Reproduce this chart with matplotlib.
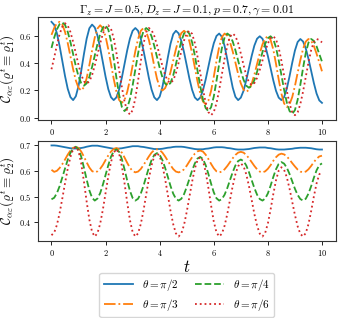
import numpy as np
import matplotlib
matplotlib.use("Agg")
import matplotlib.pyplot as plt

plt.rcParams['font.family'] = 'serif'
plt.rcParams['font.serif'] = ['cmr10', 'DejaVu Serif']
plt.rcParams['mathtext.fontset'] = 'cm'
plt.rcParams['axes.formatter.use_mathtext'] = True

# time grid (step 0.1)
t = np.linspace(0, 10, 101)

# upper panel: rho_1
top_pi2 = [0.700, 0.678, 0.617, 0.524, 0.415, 0.306, 0.213, 0.152, 0.130,
           0.158, 0.233, 0.344, 0.466, 0.577, 0.653, 0.680,
           0.659, 0.600, 0.510, 0.405, 0.300, 0.210, 0.151, 0.130,
           0.150, 0.207, 0.292, 0.393, 0.493, 0.578, 0.635, 0.655,
           0.635, 0.578, 0.493, 0.393, 0.292, 0.207, 0.150, 0.130,
           0.155, 0.225, 0.326, 0.439, 0.540, 0.610, 0.635,
           0.616, 0.561, 0.479, 0.383, 0.286, 0.204, 0.149, 0.130,
           0.148, 0.201, 0.280, 0.373, 0.465, 0.544, 0.597, 0.615,
           0.591, 0.524, 0.426, 0.319, 0.221, 0.154, 0.130,
           0.148, 0.198, 0.274, 0.363, 0.451, 0.527, 0.577, 0.595,
           0.577, 0.527, 0.451, 0.363, 0.274, 0.198, 0.148, 0.130,
           0.152, 0.214, 0.303, 0.402, 0.491, 0.553, 0.575,
           0.557, 0.507, 0.431, 0.343, 0.254, 0.178, 0.128, 0.110]
top_pi3 = [0.605, 0.655, 0.690, 0.700,
           0.681, 0.627, 0.546, 0.450, 0.355, 0.273, 0.219, 0.200,
           0.224, 0.289, 0.385, 0.490, 0.586, 0.651, 0.675,
           0.654, 0.593, 0.500, 0.393, 0.285, 0.192, 0.131, 0.110,
           0.131, 0.190, 0.278, 0.383, 0.487, 0.575, 0.634, 0.655,
           0.632, 0.569, 0.478, 0.377, 0.286, 0.223, 0.200,
           0.217, 0.264, 0.334, 0.418, 0.501, 0.571, 0.618, 0.635,
           0.615, 0.557, 0.470, 0.368, 0.265, 0.178, 0.120, 0.100,
           0.126, 0.197, 0.300, 0.415, 0.518, 0.589, 0.615,
           0.599, 0.553, 0.484, 0.403, 0.321, 0.252, 0.206, 0.190,
           0.205, 0.249, 0.315, 0.393, 0.470, 0.536, 0.580, 0.595,
           0.569, 0.498, 0.395, 0.280, 0.177, 0.106, 0.080,
           0.099, 0.152, 0.233, 0.328, 0.422, 0.503, 0.556, 0.575,
           0.562, 0.525, 0.468, 0.405, 0.340]
top_pi4 = [0.510, 0.585, 0.645, 0.683, 0.695,
           0.678, 0.628, 0.553, 0.465, 0.377, 0.302, 0.253, 0.235,
           0.252, 0.299, 0.371, 0.455, 0.539, 0.611, 0.658, 0.675,
           0.644, 0.558, 0.432, 0.293, 0.168, 0.081, 0.050,
           0.073, 0.138, 0.237, 0.353, 0.468, 0.567, 0.632, 0.655,
           0.639, 0.594, 0.525, 0.445, 0.365, 0.296, 0.251, 0.235,
           0.255, 0.310, 0.391, 0.479, 0.560, 0.615, 0.635,
           0.613, 0.550, 0.454, 0.343, 0.231, 0.135, 0.072, 0.050,
           0.078, 0.156, 0.270, 0.395, 0.509, 0.587, 0.615,
           0.600, 0.557, 0.493, 0.418, 0.342, 0.278, 0.235, 0.220,
           0.234, 0.275, 0.336, 0.408, 0.479, 0.540, 0.581, 0.595,
           0.574, 0.513, 0.420, 0.313, 0.205, 0.112, 0.051, 0.030,
           0.057, 0.132, 0.242, 0.363, 0.473, 0.548, 0.575,
           0.561, 0.522, 0.466, 0.410]
top_pi6 = [0.355, 0.440, 0.530, 0.610, 0.665, 0.690,
           0.673, 0.626, 0.554, 0.470, 0.386, 0.314, 0.267, 0.250,
           0.266, 0.312, 0.381, 0.463, 0.544, 0.613, 0.659, 0.675,
           0.650, 0.580, 0.474, 0.350, 0.226, 0.120, 0.050, 0.025,
           0.057, 0.143, 0.270, 0.410, 0.537, 0.624, 0.655,
           0.640, 0.597, 0.531, 0.455, 0.379, 0.313, 0.270, 0.255,
           0.274, 0.326, 0.403, 0.487, 0.564, 0.616, 0.635,
           0.612, 0.545, 0.445, 0.328, 0.210, 0.110, 0.043, 0.020,
           0.043, 0.107, 0.204, 0.318, 0.431, 0.528, 0.592, 0.615,
           0.596, 0.545, 0.469, 0.386, 0.311, 0.259, 0.240,
           0.254, 0.292, 0.350, 0.418, 0.485, 0.543, 0.582, 0.595,
           0.573, 0.511, 0.417, 0.308, 0.198, 0.104, 0.042, 0.020,
           0.041, 0.101, 0.192, 0.298, 0.403, 0.494, 0.554, 0.575,
           0.568, 0.550]

# lower panel: rho_2
bot_pi2 = [0.700, 0.700, 0.699, 0.697, 0.695, 0.693, 0.691, 0.689, 0.688, 0.688,
           0.689, 0.690, 0.692, 0.695, 0.697, 0.699, 0.699,
           0.699, 0.697, 0.695, 0.693, 0.691, 0.689, 0.687, 0.687,
           0.688, 0.689, 0.691, 0.693, 0.695, 0.697, 0.697,
           0.697, 0.695, 0.694, 0.692, 0.690, 0.688, 0.686, 0.686,
           0.686, 0.687, 0.689, 0.691, 0.692, 0.694, 0.695, 0.695,
           0.695, 0.694, 0.692, 0.690, 0.688, 0.686, 0.685, 0.685,
           0.685, 0.687, 0.688, 0.690, 0.692, 0.693, 0.693,
           0.693, 0.692, 0.690, 0.689, 0.687, 0.685, 0.684, 0.684,
           0.684, 0.685, 0.686, 0.688, 0.690, 0.691, 0.692, 0.692,
           0.692, 0.690, 0.689, 0.687, 0.685, 0.684, 0.684,
           0.684, 0.685, 0.686, 0.687, 0.689, 0.690, 0.691, 0.691,
           0.691, 0.690, 0.689, 0.687, 0.685, 0.684, 0.684]
bot_pi3 = [0.605, 0.597, 0.601, 0.612, 0.627, 0.645, 0.664, 0.680, 0.691, 0.695,
           0.690, 0.676, 0.656, 0.634, 0.614, 0.600, 0.595,
           0.599, 0.609, 0.624, 0.643, 0.661, 0.676, 0.686, 0.690,
           0.685, 0.672, 0.653, 0.632, 0.613, 0.600, 0.595,
           0.598, 0.608, 0.623, 0.640, 0.657, 0.672, 0.682, 0.685,
           0.682, 0.672, 0.657, 0.640, 0.623, 0.608, 0.598, 0.595,
           0.598, 0.607, 0.621, 0.638, 0.654, 0.668, 0.677, 0.680,
           0.676, 0.664, 0.647, 0.628, 0.611, 0.599, 0.595,
           0.598, 0.607, 0.620, 0.635, 0.650, 0.663, 0.672, 0.675,
           0.672, 0.663, 0.650, 0.635, 0.620, 0.607, 0.598, 0.595,
           0.599, 0.609, 0.623, 0.640, 0.654, 0.664, 0.668,
           0.665, 0.657, 0.645, 0.631, 0.618, 0.606, 0.598, 0.595,
           0.598, 0.607, 0.620, 0.635, 0.648, 0.657, 0.660]
bot_pi4 = [0.490, 0.496, 0.514, 0.541, 0.575, 0.610, 0.644, 0.671, 0.689, 0.695,
           0.685, 0.656, 0.613, 0.567, 0.525, 0.496, 0.485,
           0.493, 0.514, 0.547, 0.585, 0.623, 0.656, 0.677, 0.685,
           0.675, 0.647, 0.607, 0.563, 0.523, 0.495, 0.485,
           0.492, 0.512, 0.542, 0.578, 0.613, 0.643, 0.663, 0.670,
           0.663, 0.643, 0.613, 0.578, 0.542, 0.512, 0.492, 0.485,
           0.492, 0.510, 0.538, 0.570, 0.603, 0.630, 0.649, 0.655,
           0.647, 0.623, 0.589, 0.551, 0.517, 0.494, 0.485,
           0.491, 0.508, 0.534, 0.565, 0.596, 0.622, 0.639, 0.645,
           0.639, 0.622, 0.596, 0.565, 0.534, 0.508, 0.491, 0.485,
           0.493, 0.513, 0.543, 0.577, 0.607, 0.628, 0.635,
           0.629, 0.613, 0.589, 0.560, 0.531, 0.507, 0.491, 0.485,
           0.492, 0.512, 0.541, 0.574, 0.603, 0.623, 0.630]
bot_pi6 = [0.350, 0.360, 0.390, 0.436, 0.493, 0.553, 0.609, 0.655, 0.685, 0.695,
           0.678, 0.629, 0.559, 0.481, 0.411, 0.363, 0.345,
           0.358, 0.395, 0.450, 0.515, 0.580, 0.635, 0.672, 0.685,
           0.668, 0.621, 0.553, 0.477, 0.409, 0.362, 0.345,
           0.357, 0.393, 0.445, 0.508, 0.570, 0.623, 0.658, 0.670,
           0.658, 0.623, 0.570, 0.508, 0.445, 0.393, 0.357, 0.345,
           0.357, 0.390, 0.441, 0.500, 0.559, 0.610, 0.643, 0.655,
           0.640, 0.597, 0.535, 0.466, 0.403, 0.361, 0.345,
           0.356, 0.387, 0.433, 0.488, 0.542, 0.588, 0.619, 0.630,
           0.619, 0.588, 0.542, 0.488, 0.433, 0.387, 0.356, 0.345,
           0.359, 0.396, 0.450, 0.510, 0.564, 0.602, 0.615,
           0.605, 0.576, 0.532, 0.480, 0.429, 0.385, 0.355, 0.345,
           0.358, 0.393, 0.444, 0.501, 0.552, 0.587, 0.600]

labels = [r'$\theta = \pi/2$', r'$\theta = \pi/3$', r'$\theta = \pi/4$', r'$\theta = \pi/6$']
styles = ['-', '-.', '--', ':']
colors = ['#1f77b4', '#ff7f0e', '#2ca02c', '#d62728']

fig = plt.figure(figsize=(3.42, 3.18), dpi=100)
ax1 = fig.add_axes([0.111, 0.623, 0.870, 0.323])
ax2 = fig.add_axes([0.111, 0.242, 0.870, 0.315])

for y, ls, c, lab in zip([top_pi2, top_pi3, top_pi4, top_pi6], styles, colors, labels):
    ax1.plot(t, y, ls=ls, color=c, lw=1.3, label=lab)
for y, ls, c, lab in zip([bot_pi2, bot_pi3, bot_pi4, bot_pi6], styles, colors, labels):
    ax2.plot(t, y, ls=ls, color=c, lw=1.3, label=lab)

ax1.set_title(r'$\Gamma_z = J = 0.5, D_z = J = 0.1, p = 0.7, \gamma = 0.01$', fontsize=8.5, pad=3)
ax1.set_ylabel(r'$\mathcal{C}_{\alpha\varepsilon}(\varrho^t \equiv \varrho_1^t)$', fontsize=9.5, labelpad=1)
ax2.set_ylabel(r'$\mathcal{C}_{\alpha\varepsilon}(\varrho^t \equiv \varrho_2^t)$', fontsize=9.5, labelpad=1)
ax2.set_xlabel(r'$t$', fontsize=12, labelpad=1)

ax1.set_yticks([0.0, 0.2, 0.4, 0.6])
ax2.set_yticks([0.4, 0.5, 0.6, 0.7])
for ax in (ax1, ax2):
    ax.set_xticks([0, 2, 4, 6, 8, 10])
    ax.tick_params(labelsize=6, length=3, width=0.6, pad=2)
    for s in ax.spines.values():
        s.set_linewidth(0.8)
        s.set_color('#333333')

ax2.legend(loc='upper center', bbox_to_anchor=(0.5, -0.26), ncol=2, fontsize=8,
           handlelength=2.6, columnspacing=1.5, borderpad=0.4, labelspacing=0.35)

fig.savefig('out.png', dpi=100)
